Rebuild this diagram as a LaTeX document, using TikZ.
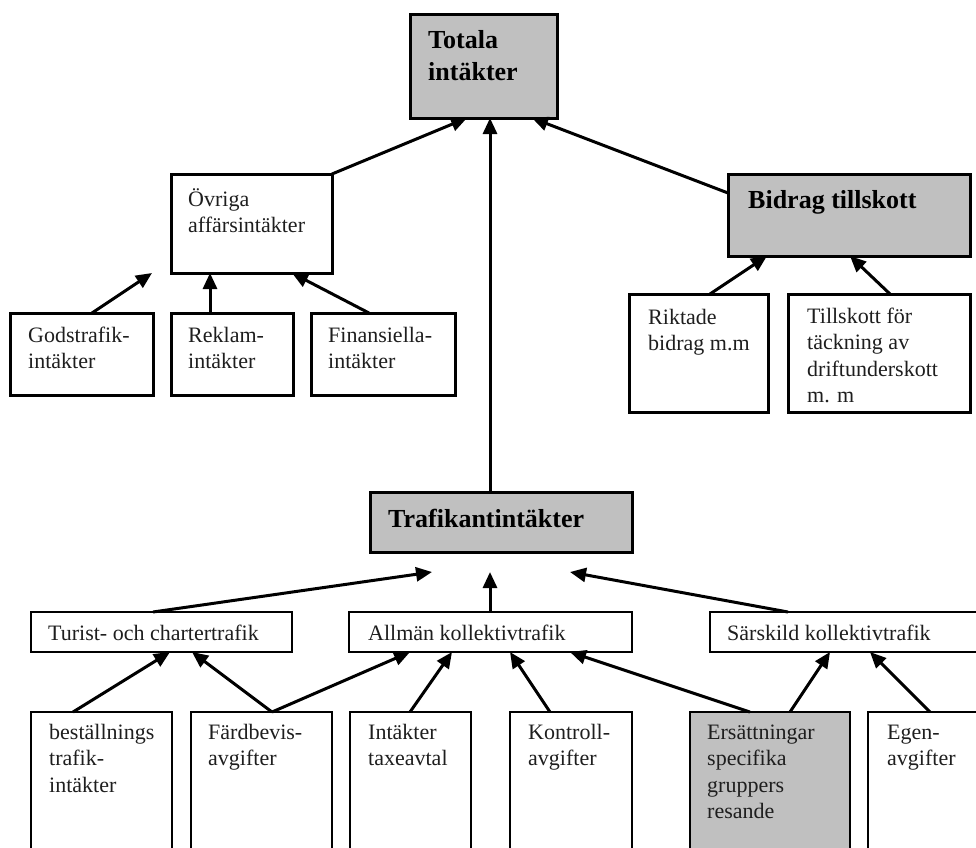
\documentclass[tikz,border=0pt]{standalone}
\usepackage{fontspec}
\setmainfont{Liberation Serif}
\usetikzlibrary{arrows.meta,calc}
\definecolor{boxgray}{RGB}{192,192,192}
\definecolor{txtcol}{RGB}{30,30,30}
\tikzset{
  box/.style={draw, rectangle, line width=3pt, inner sep=0pt, outer sep=0pt, anchor=north west},
  lbox/.style={box, line width=2.3pt},
  shaded/.style={fill=boxgray},
  arr/.style={line width=3pt, -{Triangle[length=16pt,width=14pt]}},
  txt/.style={anchor=base west, inner sep=0pt, text=txtcol, font=\fontsize{22}{26.5}\selectfont},
  btxt/.style={anchor=base west, inner sep=0pt, text=black, font=\fontsize{26}{32}\selectfont\bfseries},
}
\newcommand{\lines}[1]{\begin{tabular}[t]{@{}l@{}}#1\end{tabular}}
\begin{document}
\begin{tikzpicture}[x=1pt,y=-1pt]
\useasboundingbox (0,0) rectangle (976,847);
\clip (0,0) rectangle (976,847);
% upper boxes
\node[box, shaded, minimum width=147, minimum height=104] (tot) at (410,14) {};
\node[box, minimum width=161, minimum height=99] (ovr) at (171,174) {};
\node[box, minimum width=143, minimum height=82] (gods) at (10,313) {};
\node[box, minimum width=122, minimum height=82] (rekl) at (171,313) {};
\node[box, minimum width=144, minimum height=82] (fin) at (311,313) {};
\node[box, shaded, minimum width=242, minimum height=82] (bid) at (728,174) {};
\node[box, minimum width=139, minimum height=118] (rikt) at (629,294) {};
\node[box, minimum width=182, minimum height=118] (till) at (788,294) {};
\node[box, shaded, minimum width=262, minimum height=60] (traf) at (370,492) {};
% lower boxes
\node[lbox, minimum width=261, minimum height=40] (tur) at (31,612) {};
\node[lbox, minimum width=283, minimum height=40] (allm) at (349,612) {};
\node[lbox, minimum width=290, minimum height=40] (sars) at (710,612) {};
\node[lbox, minimum width=141, minimum height=160] (best) at (31,712) {};
\node[lbox, minimum width=141, minimum height=160] (fard) at (191,712) {};
\node[lbox, minimum width=121, minimum height=160] (intak) at (350,712) {};
\node[lbox, minimum width=122, minimum height=160] (kontr) at (510,712) {};
\node[lbox, shaded, minimum width=160, minimum height=160] (ers) at (690,712) {};
\node[lbox, minimum width=130, minimum height=160] (egen) at (868,712) {};
% texts
\node[btxt] (ttot) at (428,48) {\lines{Totala\\intäkter}};
\node[txt] (tovr) at (188,206) {\lines{Övriga\\affärsintäkter}};
\node[txt] (tgods) at (28,342) {\lines{Godstrafik-\\intäkter}};
\node[txt] (trekl) at (188,342) {\lines{Reklam-\\intäkter}};
\node[txt] (tfin) at (328,342) {\lines{Finansiella-\\intäkter}};
\node[btxt] (tbid) at (748,208) {Bidrag tillskott};
\node[txt] (trikt) at (648,324) {\lines{Riktade\\bidrag m.m}};
\node[txt] (ttill) at (807,323) {\lines{Tillskott för\\täckning av\\driftunderskott\\m. m}};
\node[btxt] (ttraf) at (388,527) {Trafikantintäkter};
\node[txt] (ttur) at (48,640) {Turist- och chartertrafik};
\node[txt] (tallm) at (368,640) {Allmän kollektivtrafik};
\node[txt] (tsars) at (727,640) {Särskild kollektivtrafik};
\node[txt] (tbest) at (49,739) {\lines{beställnings\\trafik-\\intäkter}};
\node[txt] (tfard) at (208,739) {\lines{Färdbevis-\\avgifter}};
\node[txt] (tintak) at (368,739) {\lines{Intäkter\\taxeavtal}};
\node[txt] (tkontr) at (528,739) {\lines{Kontroll-\\avgifter}};
\node[txt] (ters) at (707,739) {\lines{Ersättningar\\specifika\\gruppers\\resande}};
\node[txt] (tegen) at (887,739) {\lines{Egen-\\avgifter}};
% free arrow ends
\coordinate (gfree) at ($(ovr.south west)+(-19,0)$);
\coordinate (tfree) at ($(traf.south west)+(62,20)$);
\coordinate (afree) at ($(traf.south west)+(120,20)$);
\coordinate (sfree) at ($(traf.south west)+(200,20)$);
% connectors
\draw[arr] (ovr.north east) -- ($(tot.south west)+(57,0)$);
\draw[arr] ($(traf.north west)+(120,0)$) -- ($(tot.south west)+(80,0)$);
\draw[arr] ($(bid.north west)+(0,19)$) -- ($(tot.south west)+(122,0)$);
\draw[arr] ($(gods.north west)+(82,0)$) -- (gfree);
\draw[arr] ($(rekl.north west)+(39,0)$) -- ($(ovr.south west)+(39,0)$);
\draw[arr] ($(fin.north west)+(58,0)$) -- ($(ovr.south west)+(121,0)$);
\draw[arr] ($(rikt.north west)+(81,0)$) -- ($(bid.south west)+(39,0)$);
\draw[arr] ($(till.north west)+(102,0)$) -- ($(bid.south west)+(122,0)$);
\draw[arr] ($(tur.north west)+(122,0)$) -- (tfree);
\draw[arr] ($(allm.north west)+(141,0)$) -- (afree);
\draw[arr] ($(sars.north west)+(78,0)$) -- (sfree);
\draw[arr] ($(best.north west)+(42,0)$) -- ($(tur.south west)+(139,0)$);
\draw[arr] ($(fard.north west)+(81,0)$) -- ($(tur.south west)+(161,0)$);
\draw[arr] ($(fard.north west)+(81,0)$) -- ($(allm.south west)+(61,0)$);
\draw[arr] ($(intak.north west)+(60,0)$) -- ($(allm.south west)+(103,0)$);
\draw[arr] ($(kontr.north west)+(40,0)$) -- ($(allm.south west)+(161,0)$);
\draw[arr] ($(ers.north west)+(60,0)$) -- ($(allm.south west)+(221,0)$);
\draw[arr] ($(ers.north west)+(100,0)$) -- ($(sars.south west)+(120,0)$);
\draw[arr] ($(egen.north west)+(62,0)$) -- ($(sars.south west)+(160,0)$);
\end{tikzpicture}
\end{document}
